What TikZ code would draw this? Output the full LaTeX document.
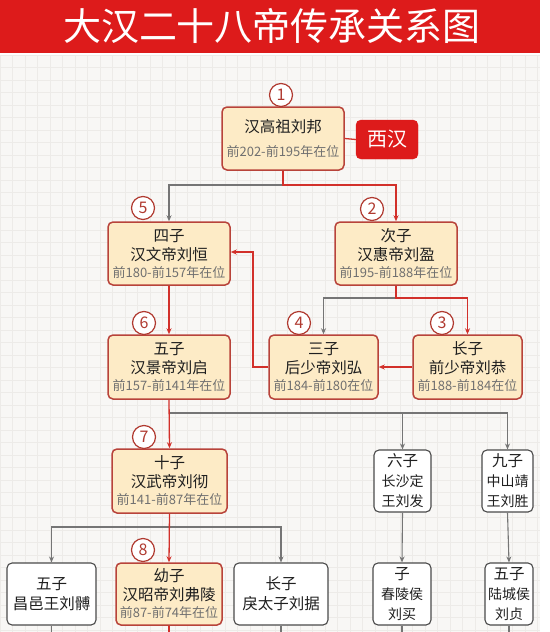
\documentclass[tikz,border=0pt]{standalone}
\usepackage{fontspec}
\setmainfont{Noto Sans CJK SC}
\usetikzlibrary{arrows.meta}
\definecolor{titlered}{HTML}{DD1B1B}
\definecolor{boxfill}{HTML}{FDEBC6}
\definecolor{boxline}{HTML}{B8433A}
\definecolor{linered}{HTML}{D2302A}
\definecolor{linegray}{HTML}{757575}
\definecolor{gboxline}{HTML}{4A4A4A}
\definecolor{subgray}{HTML}{707070}
\definecolor{numred}{HTML}{B03A30}
\definecolor{paper}{HTML}{F8F7F5}
\definecolor{gridc}{HTML}{EDEBE8}
\newcommand{\subl}[1]{{\color{subgray}\fontsize{13}{14}\selectfont #1}}
\newcommand{\smallg}[1]{{\fontsize{14}{14}\selectfont #1}}
\begin{document}
\begin{tikzpicture}[x=1pt,y=-1pt,
  emperor/.style={draw=boxline, fill=boxfill, line width=1.5pt, rounded corners=5pt,
    align=center, inner sep=0pt, font=\fontsize{15.5}{19}\selectfont, text=black!88},
  prince/.style={draw=gboxline, fill=white, line width=1.1pt, rounded corners=5pt,
    align=center, inner sep=0pt, font=\fontsize{15.5}{20}\selectfont, text=black!88},
  numc/.style={circle, draw=numred, fill=white, line width=1.2pt, minimum size=23pt,
    inner sep=0pt, text=numred, font=\fontsize{16}{16}\selectfont},
  redarr/.style={draw=linered, line width=1.3pt, -{Stealth[length=6pt,width=5pt]}},
  redln/.style={draw=linered, line width=1.3pt},
  grayarr/.style={draw=linegray, line width=1.1pt, -{Stealth[length=6pt,width=5pt]}},
  grayln/.style={draw=linegray, line width=1.1pt},
]
\useasboundingbox (0,0) rectangle (549,632);
% background
\fill[white] (0,0) rectangle (549,632);
\fill[paper] (0,55) rectangle (540,632);
\foreach \gx in {0,12.5,...,540} \draw[gridc, line width=0.4pt] (\gx,55) -- (\gx,632);
\foreach \gy in {55,67.5,...,632} \draw[gridc, line width=0.4pt] (0,\gy) -- (540,\gy);
% title
\fill[titlered] (0,0) rectangle (540,53);
\node (title) at (272,26) {\color{white}\fontsize{38}{40}\selectfont 大汉二十八帝传承关系图};

% emperor boxes
\node[emperor, minimum width=122pt, minimum height=63pt] (b1) at (283,138.5)
  {汉高祖刘邦\\[5pt]\subl{前202-前195年在位}};
\node[draw=titlered, fill=titlered, rounded corners=5pt, minimum width=62pt, minimum height=39pt,
  inner sep=0pt, text=white, font=\fontsize{20}{20}\selectfont] (xh) at (387,139.5) {西汉};
\node[emperor, minimum width=122pt, minimum height=63pt] (b5) at (169,253.5)
  {四子\\汉文帝刘恒\\[-2pt]\subl{前180-前157年在位}};
\node[emperor, minimum width=122pt, minimum height=63pt] (b2) at (396,253.5)
  {次子\\汉惠帝刘盈\\[-2pt]\subl{前195-前188年在位}};
\node[emperor, minimum width=122pt, minimum height=64pt] (b6) at (169,367)
  {五子\\汉景帝刘启\\[-2pt]\subl{前157-前141年在位}};
\node[emperor, minimum width=109pt, minimum height=64pt] (b4) at (323.5,367)
  {三子\\后少帝刘弘\\[-2pt]\subl{前184-前180在位}};
\node[emperor, minimum width=109pt, minimum height=64pt] (b3) at (467.5,367)
  {长子\\前少帝刘恭\\[-2pt]\subl{前188-前184在位}};
\node[emperor, minimum width=115pt, minimum height=64pt] (b7) at (169.5,481)
  {十子\\汉武帝刘彻\\[-2pt]\subl{前141-前87年在位}};
\node[emperor, minimum width=106pt, minimum height=62pt] (b8) at (169,594)
  {幼子\\汉昭帝刘弗陵\\[-2pt]\subl{前87-前74年在位}};

% prince boxes
\node[prince, minimum width=57pt, minimum height=62pt] (g6) at (402.5,481)
  {六子\\\smallg{长沙定}\\\smallg{王刘发}};
\node[prince, minimum width=51pt, minimum height=62pt] (g9) at (507.5,481)
  {九子\\\smallg{中山靖}\\\smallg{王刘胜}};
\node[prince, minimum width=89pt, minimum height=62pt] (g5) at (51.5,594)
  {五子\\昌邑王刘髆};
\node[prince, minimum width=94pt, minimum height=62pt] (gl) at (281,594)
  {长子\\戾太子刘据};
\node[prince, minimum width=58pt, minimum height=62pt] (gc) at (402,594)
  {子\\\smallg{春陵侯}\\\smallg{刘买}};
\node[prince, minimum width=48pt, minimum height=62pt] (gz) at (509,594)
  {五子\\\smallg{陆城侯}\\\smallg{刘贞}};

% order circles
\node[numc] (n1) at (281,95) {1};
\node[numc] (n5) at (143,208) {5};
\node[numc] (n2) at (372,209) {2};
\node[numc] (n6) at (144,323) {6};
\node[numc] (n4) at (299,323) {4};
\node[numc] (n3) at (442,323) {3};
\node[numc] (n7) at (144,437) {7};
\node[numc] (n8) at (143,550) {8};

% junction coordinates
\coordinate (j1) at (283,185);
\coordinate (j2) at (396,298);
\coordinate (j6) at (169,413);
\coordinate (j7) at (169,527);
\coordinate (k4) at (253,367);
\coordinate (k5) at (253,252);
\coordinate (e5) at (51.5,632);
\coordinate (e8) at (169,632);
\coordinate (el) at (281,632);
\coordinate (ec) at (402,632);
\coordinate (ez) at (509,632);

% connectors
\draw[redln] (b1.east) -- (xh.west);
\draw[grayarr] (j1) -| (b5.north);
\draw[redarr] (b1.south -| j1) -- (j1) -| (b2.north);
\draw[grayarr] (j2) -| (b4.north);
\draw[redarr] (b2.south) -- (j2) -| (b3.north);
\draw[redarr] (b3.west) -- (b4.east);
\draw[redarr] (b4.west) -- (k4) -- (k5) -- (b5.east |- k5);
\draw[redarr] (b5.south) -- (b6.north);
\draw[grayarr] (j6) -| (g9.north);
\draw[grayarr] (j6 -| g6.north) -- (g6.north);
\draw[redarr] (b6.south) -- (b7.north);
\draw[grayarr] (j7) -| (g5.north);
\draw[grayarr] (j7) -| (gl.north);
\draw[redarr] (b7.south) -- (b8.north);
\draw[grayarr] (g6.south) -- (gc.north);
\draw[grayarr] (g9.south) -- (gz.north);
\draw[grayln] (g5.south) -- (e5);
\draw[redln] (b8.south) -- (e8);
\draw[grayln] (gl.south) -- (el);
\draw[grayln] (gc.south) -- (ec);
\draw[grayln] (gz.south) -- (ez);
\end{tikzpicture}
\end{document}
